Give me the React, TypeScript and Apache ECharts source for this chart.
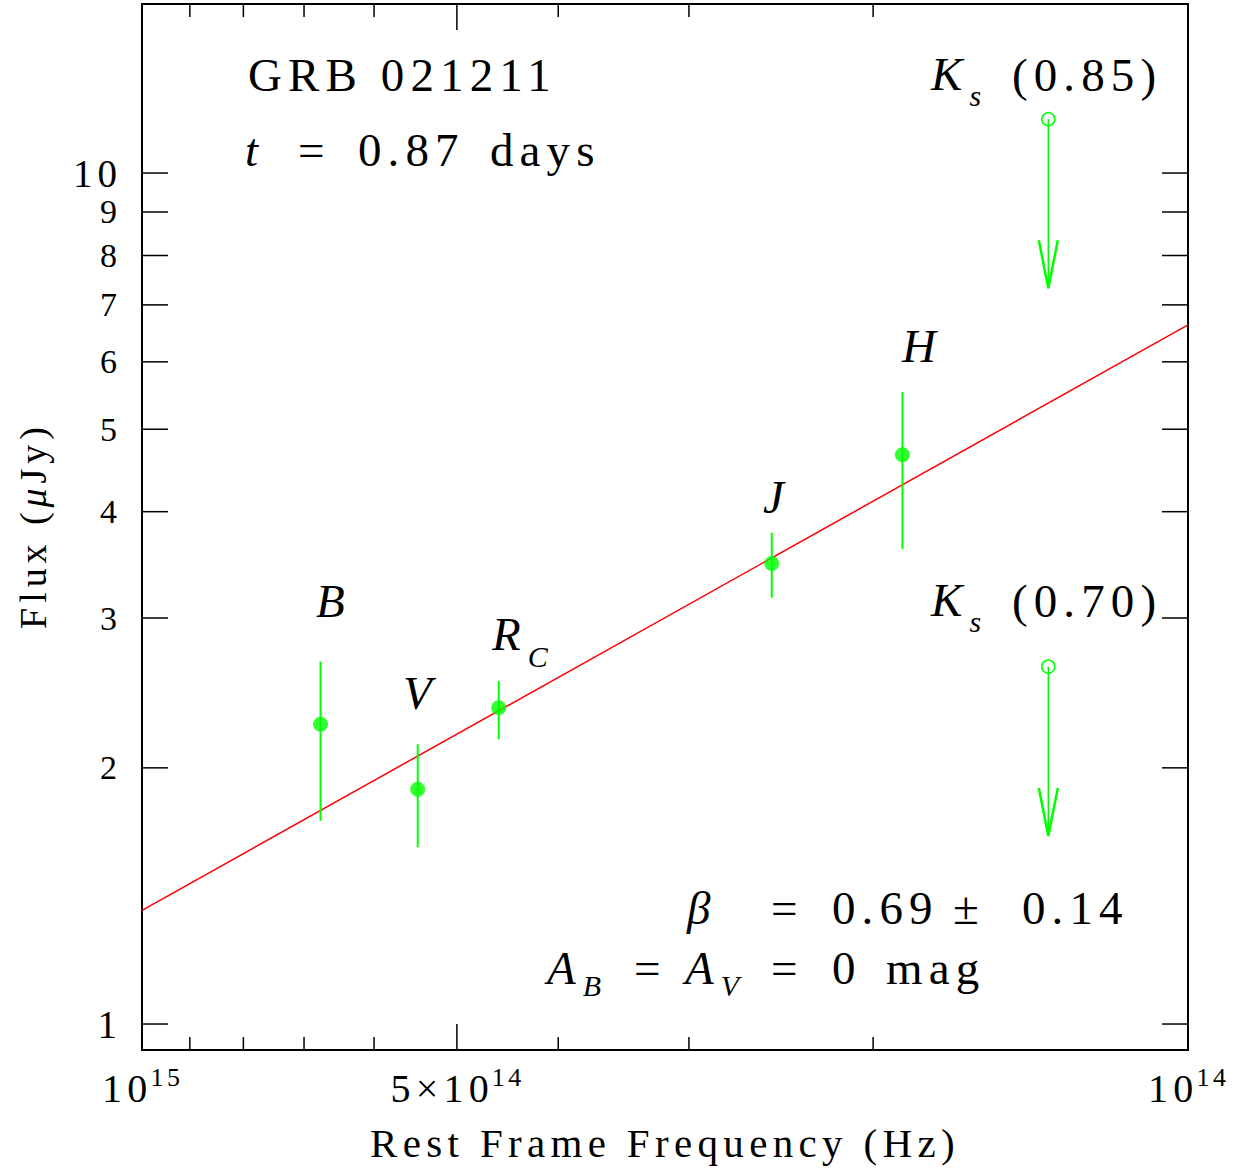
import React, { useEffect, useRef } from 'react';
import * as echarts from 'echarts';

// ---------------- data ----------------
const bandNames = ['B', 'V', 'R', 'J', 'H'];
const bandFreq = [6.75e14, 5.45e14, 4.56e14, 2.5e14, 1.875e14];
const bandFlux = [2.25, 1.888, 2.353, 3.477, 4.667];
const bandFluxLow = [1.733, 1.613, 2.161, 3.17, 3.615];
const bandFluxHigh = [2.666, 2.132, 2.53, 3.779, 5.529];

const ksFreq = [1.36e14, 1.36e14];
const ksLimit = [11.57, 2.63];
const ksArrowEnd = [7.32, 1.663];
const ksSeeing = ['(0.85)', '(0.70)'];

const fitFreq = [1e15, 1e14];
const fitFlux = [1.36, 6.63];

const yTickValues = [1, 2, 3, 4, 5, 6, 7, 8, 9, 10];
const yTickLabels = ['1', '2', '3', '4', '5', '6', '7', '8', '9', '10'];
const yMajorTicks = [1, 10];
const xTickValues = [1e15, 9e14, 8e14, 7e14, 6e14, 5e14, 4e14, 3e14, 2e14, 1e14];
const xLabelValues = [1e15, 5e14, 1e14];
const xLabelBase = ['10', '5×10', '10'];
const xLabelExp = ['15', '14', '14'];

const X_MIN = 1e14;
const X_MAX = 1e15;
const Y_MIN = 0.9321;
const Y_MAX = 15.8;

// ---------------- styling helpers ----------------
const FONT = '"Liberation Serif", "Times New Roman", serif';
const LS = 0.13; // letter spacing (em), applied by CSS to svg text
const GREEN = '#00ff00';
const RED = '#ff0000';

let measureCtx: CanvasRenderingContext2D | null = null;
function tw(text: string, size: number, italic = false): number {
  if (!measureCtx) measureCtx = document.createElement('canvas').getContext('2d');
  if (!measureCtx) return text.length * size * 0.5;
  measureCtx.font = `${italic ? 'italic ' : ''}${size}px ${FONT}`;
  return measureCtx.measureText(text).width + LS * size * text.length;
}

function txt(text: string, x: number, y: number, size: number, italic = false, align = 'left') {
  return {
    type: 'text',
    x,
    y,
    silent: true,
    style: {
      text,
      fill: '#000',
      fontSize: size,
      fontFamily: FONT,
      fontStyle: italic ? 'italic' : 'normal',
      align,
      verticalAlign: 'middle',
      textAlign: align,
      textVerticalAlign: 'middle',
    },
  };
}

// main glyph followed by a subscript placed right after it
function withSub(main: string, sub: string, x: number, y: number, size: number, subSize: number, dy: number) {
  const w = tw(main, size, true);
  return [txt(main, x, y, size, true), txt(sub, x + w + 1, y + dy, subSize, true)];
}

export default function App() {
  const ref = useRef<HTMLDivElement>(null);

  useEffect(() => {
    document.body.style.margin = '0';
    if (!ref.current) return;
    const chart = echarts.init(ref.current, undefined, { renderer: 'svg' });

    const ANN = 47;
    const SUB = 30;
    const TITLE = 38;
    const XTITLE = 41;

    // y-axis title pieces
    const yT1 = 'Flux (';
    const yT2 = 'μ';
    const yT3 = 'Jy)';
    const w1 = tw(yT1, TITLE);
    const w2 = tw(yT2, TITLE, true);
    const w3 = tw(yT3, TITLE);
    const yTotal = w1 + w2 + w3 - LS * TITLE;
    const y0 = -yTotal / 2;

    const graphic: any[] = [
      txt('GRB 021211', 248, 75, ANN),
      txt('t', 245, 150, ANN, true),
      txt('=', 298, 150, ANN),
      txt('0.87', 358, 150, ANN),
      txt('days', 490, 150, ANN),
      // Ks labels
      ...withSub('K', 's', 931, 74, ANN, SUB, 21),
      txt(ksSeeing[0], 1012, 75, ANN),
      ...withSub('K', 's', 931, 600, ANN, SUB, 21),
      txt(ksSeeing[1], 1012, 601, ANN),
      // fit result
      txt('β', 687, 908, ANN, true),
      txt('=', 771, 908, ANN),
      txt('0.69', 832, 908, ANN),
      txt('±', 953, 908, ANN),
      txt('0.14', 1022, 908, ANN),
      ...withSub('A', 'B', 547, 968, ANN, SUB, 17),
      txt('=', 634, 968, ANN),
      ...withSub('A', 'V', 685, 968, ANN, SUB, 17),
      txt('=', 771, 968, ANN),
      txt('0', 832, 968, ANN),
      txt('mag', 886, 968, ANN),
      // band labels
      txt(bandNames[0], 316, 601, ANN, true),
      txt(bandNames[1], 403, 693, ANN, true),
      ...withSub(bandNames[2], 'C', 492, 634, ANN, SUB, 22),
      txt(bandNames[3], 763, 497, ANN, true),
      txt(bandNames[4], 902, 346, ANN, true),
      // axis titles
      txt('Rest Frame Frequency (Hz)', 665, 1143, XTITLE, false, 'center'),
      {
        type: 'group',
        x: 33,
        y: 528,
        rotation: Math.PI / 2,
        children: [
          txt(yT1, y0, 0, TITLE),
          txt(yT2, y0 + w1, 0, TITLE, true),
          txt(yT3, y0 + w1 + w2, 0, TITLE),
        ],
      },
    ];

    const option: any = {
      animation: false,
      backgroundColor: '#fff',
      grid: {
        left: 142,
        right: 55,
        top: 4,
        bottom: 119,
        show: true,
        borderColor: '#000',
        borderWidth: 2,
        backgroundColor: 'transparent',
      },
      xAxis: {
        type: 'log',
        logBase: 10,
        min: X_MIN,
        max: X_MAX,
        inverse: true,
        axisLine: { show: false },
        axisTick: { show: false },
        axisLabel: { show: false },
        splitLine: { show: false },
      },
      yAxis: {
        type: 'log',
        logBase: 10,
        min: Y_MIN,
        max: Y_MAX,
        axisLine: { show: false },
        axisTick: { show: false },
        axisLabel: { show: false },
        splitLine: { show: false },
      },
      graphic,
      series: [
        // y ticks + labels
        {
          type: 'custom',
          coordinateSystem: 'cartesian2d',
          clip: false,
          silent: true,
          z: 5,
          data: yTickValues.map((v) => [X_MAX, v]),
          encode: { x: 0, y: 1 },
          renderItem: (params: any, api: any) => {
            const v = api.value(1);
            const pL = api.coord([X_MAX, v]);
            const pR = api.coord([X_MIN, v]);
            const fs = yMajorTicks.indexOf(v) >= 0 ? 39 : 34;
            return {
              type: 'group',
              children: [
                { type: 'line', shape: { x1: pL[0], y1: pL[1], x2: pL[0] + 26, y2: pL[1] }, style: { stroke: '#000', lineWidth: 1.5 } },
                { type: 'line', shape: { x1: pR[0] - 26, y1: pR[1], x2: pR[0], y2: pR[1] }, style: { stroke: '#000', lineWidth: 1.5 } },
                txt(yTickLabels[params.dataIndex], pL[0] - 25 + LS * fs, pL[1], fs, false, 'right'),
              ],
            };
          },
        },
        // x ticks
        {
          type: 'custom',
          coordinateSystem: 'cartesian2d',
          clip: false,
          silent: true,
          z: 5,
          data: xTickValues.map((v) => [v, Y_MIN]),
          encode: { x: 0, y: 1 },
          renderItem: (params: any, api: any) => {
            const v = api.value(0);
            const pB = api.coord([v, Y_MIN]);
            const pT = api.coord([v, Y_MAX]);
            const len = xLabelValues.indexOf(v) >= 0 ? 26 : 13;
            return {
              type: 'group',
              children: [
                { type: 'line', shape: { x1: pB[0], y1: pB[1], x2: pB[0], y2: pB[1] - len }, style: { stroke: '#000', lineWidth: 1.5 } },
                { type: 'line', shape: { x1: pT[0], y1: pT[1], x2: pT[0], y2: pT[1] + len }, style: { stroke: '#000', lineWidth: 1.5 } },
              ],
            };
          },
        },
        // x labels
        {
          type: 'custom',
          coordinateSystem: 'cartesian2d',
          clip: false,
          silent: true,
          z: 5,
          data: xLabelValues.map((v) => [v, Y_MIN]),
          encode: { x: 0, y: 1 },
          renderItem: (params: any, api: any) => {
            const i = params.dataIndex;
            const p = api.coord([api.value(0), Y_MIN]);
            const bs = 40;
            const es = 26;
            const wb = tw(xLabelBase[i], bs);
            const we = tw(xLabelExp[i], es) - LS * es;
            const start = p[0] - (wb + we) / 2;
            return {
              type: 'group',
              children: [
                txt(xLabelBase[i], start, p[1] + 38, bs),
                txt(xLabelExp[i], start + wb - 2, p[1] + 27, es),
              ],
            };
          },
        },
        // power-law fit
        {
          type: 'line',
          data: fitFreq.map((f, i) => [f, fitFlux[i]]),
          showSymbol: false,
          symbol: 'none',
          lineStyle: { color: RED, width: 1.5 },
          z: 2,
        },
        // error bars
        {
          type: 'custom',
          coordinateSystem: 'cartesian2d',
          silent: true,
          z: 3,
          data: bandFreq.map((f, i) => [f, bandFluxLow[i], bandFluxHigh[i]]),
          encode: { x: 0, y: [1, 2] },
          renderItem: (params: any, api: any) => {
            const a = api.coord([api.value(0), api.value(1)]);
            const b = api.coord([api.value(0), api.value(2)]);
            return { type: 'line', shape: { x1: a[0], y1: a[1], x2: b[0], y2: b[1] }, style: { stroke: GREEN, lineWidth: 2 } };
          },
        },
        // data points
        {
          type: 'scatter',
          data: bandFreq.map((f, i) => [f, bandFlux[i]]),
          symbol: 'circle',
          symbolSize: 15,
          itemStyle: { color: GREEN },
          z: 4,
        },
        // Ks upper limits
        {
          type: 'custom',
          coordinateSystem: 'cartesian2d',
          silent: true,
          z: 4,
          data: ksFreq.map((f, i) => [f, ksLimit[i], ksArrowEnd[i]]),
          encode: { x: 0, y: [1, 2] },
          renderItem: (params: any, api: any) => {
            const a = api.coord([api.value(0), api.value(1)]);
            const b = api.coord([api.value(0), api.value(2)]);
            return {
              type: 'group',
              children: [
                { type: 'circle', shape: { cx: a[0], cy: a[1], r: 6.5 }, style: { fill: 'none', stroke: GREEN, lineWidth: 1.5 } },
                { type: 'line', shape: { x1: a[0], y1: a[1], x2: b[0], y2: b[1] }, style: { stroke: GREEN, lineWidth: 1.5 } },
                {
                  type: 'polyline',
                  shape: { points: [[b[0] - 9.5, b[1] - 48], [b[0], b[1]], [b[0] + 9.5, b[1] - 48]] },
                  style: { fill: 'none', stroke: GREEN, lineWidth: 2.5 },
                },
              ],
            };
          },
        },
      ],
    };

    chart.setOption(option);
    return () => chart.dispose();
  }, []);

  return (
    <div>
      <style>{`#chart text { letter-spacing: ${LS}em; }`}</style>
      <div id="chart" ref={ref} style={{ width: 1243, height: 1169 }} />
    </div>
  );
}
